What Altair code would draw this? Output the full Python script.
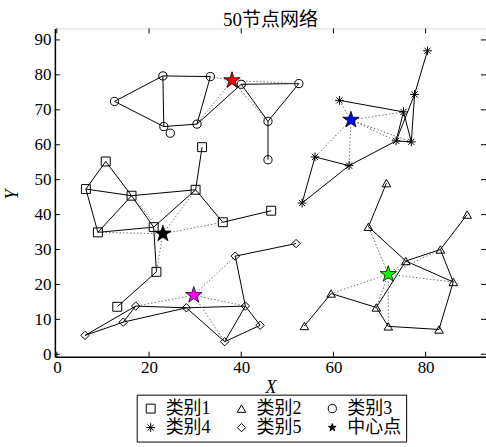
import altair as alt
import pandas as pd

# ---- data ----
c1_x = [31.5, 10.6, 6.3, 16.2, 30.1, 36.0, 8.9, 21.0, 46.5, 21.6, 13.1]
c1_y = [59.3, 55.2, 47.3, 45.4, 47.1, 37.8, 34.9, 36.4, 41.1, 23.6, 13.6]
c2_x = [71.5, 89.0, 67.6, 83.2, 75.7, 86.0, 59.5, 69.3, 53.7, 71.9, 82.9]
c2_y = [49.0, 40.0, 36.5, 30.0, 26.7, 20.7, 17.4, 13.4, 8.1, 8.0, 7.1]
c3_x = [12.5, 23.0, 33.3, 40.0, 23.2, 24.6, 30.4, 45.8, 52.5, 45.8]
c3_y = [72.4, 79.7, 79.5, 77.3, 65.2, 63.3, 65.9, 66.7, 77.5, 55.7]
c4_x = [80.4, 77.6, 61.3, 75.2, 73.6, 76.9, 56.0, 63.4, 53.2]
c4_y = [86.9, 74.4, 72.7, 69.4, 61.1, 60.8, 56.5, 54.0, 43.3]
c5_x = [51.9, 38.7, 17.1, 28.1, 40.9, 14.4, 44.1, 6.1, 36.4]
c5_y = [31.7, 28.1, 13.8, 13.3, 13.8, 9.2, 8.3, 5.4, 3.6]

center_x = [23.0, 71.9, 38.0, 63.8, 29.7]
center_y = [34.5, 22.9, 78.4, 67.1, 16.9]
center_color = ["#000000", "#00ff00", "#ff0000", "#0000ff", "#ff00ff"]

edges1 = [(0, 4), (1, 2), (1, 3), (2, 3), (2, 6), (3, 4), (3, 6), (3, 7), (6, 7),
          (7, 4), (4, 5), (5, 8), (7, 9), (9, 10)]
edges2 = [(0, 2), (2, 4), (4, 5), (1, 3), (3, 4), (3, 5), (4, 7), (6, 7), (6, 8),
          (7, 9), (9, 10), (10, 5)]
edges3 = [(0, 1), (0, 4), (1, 2), (1, 4), (2, 6), (4, 6), (3, 6), (3, 7), (3, 8),
          (8, 7), (7, 9)]
edges4 = [(0, 1), (1, 4), (1, 5), (2, 3), (3, 4), (3, 5), (4, 5), (4, 7), (6, 7),
          (6, 8), (8, 7)]
edges5 = [(0, 1), (1, 4), (2, 3), (3, 4), (2, 5), (2, 7), (5, 7), (5, 3), (3, 8),
          (8, 4), (8, 6), (4, 6)]

dots1 = [6, 3, 4, 5, 9]
dots2 = [2, 3, 5, 6, 7, 9, 4]
dots3 = [2, 6, 8, 7]
dots4 = [2, 3, 4, 5, 6, 7]
dots5 = [1, 2, 4, 8]

categories = ["类别1", "类别2", "类别3", "类别4", "类别5", "中心点"]
x_ticks = [0, 20, 40, 60, 80]
y_ticks = [0, 10, 20, 30, 40, 50, 60, 70, 80, 90]

# ---- tables ----
clusters = [(c1_x, c1_y), (c2_x, c2_y), (c3_x, c3_y), (c4_x, c4_y), (c5_x, c5_y)]
edge_sets = [edges1, edges2, edges3, edges4, edges5]
dot_sets = [dots1, dots2, dots3, dots4, dots5]

node_rows, edge_rows, dot_rows = [], [], []
for k, (xs, ys) in enumerate(clusters):
    for xv, yv in zip(xs, ys):
        node_rows.append({"x": xv, "y": yv, "cat": categories[k]})
    for a, b in edge_sets[k]:
        edge_rows.append({"x": xs[a], "y": ys[a], "x2": xs[b], "y2": ys[b]})
    for i in dot_sets[k]:
        dot_rows.append({"x": center_x[k], "y": center_y[k], "x2": xs[i], "y2": ys[i]})

nodes = pd.DataFrame(node_rows)
edges = pd.DataFrame(edge_rows)
dots = pd.DataFrame(dot_rows)
centers = pd.DataFrame({"x": center_x, "y": center_y, "col": center_color})
xt = pd.DataFrame({"x": x_ticks})
yt = pd.DataFrame({"y": y_ticks})

W, H = 432, 329
SERIF = "Liberation Serif, Noto Sans CJK SC"

STAR = ("M0,-1L0.2245,-0.309L0.951,-0.309L0.363,0.118L0.588,0.809L0,0.382"
        "L-0.588,0.809L-0.363,0.118L-0.951,-0.309L-0.2245,-0.309Z")
ASTER = "M-1,0L1,0M0,-1L0,1M-0.7,-0.7L0.7,0.7M-0.7,0.7L0.7,-0.7"

shape_of = {"类别1": "square", "类别2": "triangle-up", "类别3": "circle",
            "类别4": ASTER, "类别5": "diamond", "中心点": STAR}
fill_of = {"类别1": "transparent", "类别2": "transparent", "类别3": "transparent",
           "类别4": "transparent", "类别5": "transparent", "中心点": "black"}
size_of = {"类别1": 80, "类别2": 100, "类别3": 80, "类别4": 64, "类别5": 90, "中心点": 170}

# legend fills its grid column by column: order the domain so rows read 1-2-3 / 4-5-中心点
legend_order = [categories[i] for i in (0, 3, 1, 4, 2, 5)]

xscale = alt.Scale(domain=[-0.43, 93.1], nice=False, zero=False)
yscale = alt.Scale(domain=[-0.7, 93.3], nice=False, zero=False)
xaxis = alt.Axis(values=x_ticks, ticks=False, grid=False, domainColor="black",
                 domainWidth=1.5, labelFont=SERIF, labelFontSize=17, labelColor="black",
                 labelPadding=3, title="X", titleFont=SERIF, titleFontSize=18,
                 titleFontStyle="italic", titleFontWeight="normal", titleColor="black",
                 titleY=31, titleBaseline="middle")
yaxis = alt.Axis(values=y_ticks, ticks=False, grid=False, domainColor="black",
                 domainWidth=1.5, labelFont=SERIF, labelFontSize=17, labelColor="black",
                 labelPadding=4, title="Y", titleFont=SERIF, titleFontSize=18,
                 titleFontStyle="italic", titleFontWeight="normal", titleColor="black",
                 titleX=-42, titleY=166, titleBaseline="middle", titleAngle=270)

X = alt.X("x:Q", scale=xscale, axis=xaxis)
Y = alt.Y("y:Q", scale=yscale, axis=yaxis)

solid = alt.Chart(edges).mark_rule(color="black", strokeWidth=1).encode(
    x=X, y=Y, x2="x2:Q", y2="y2:Q")
dotted = alt.Chart(dots).mark_rule(color="#707070", strokeWidth=1,
                                   strokeDash=[1.5, 2]).encode(
    x=X, y=Y, x2="x2:Q", y2="y2:Q")

legend = alt.Legend(title=None, orient="none", legendX=82, legendY=367, columns=3,
                    strokeColor="black", fillColor="white", padding=5,
                    labelFont=SERIF, labelFontSize=18, labelColor="black",
                    columnPadding=22, rowPadding=1, labelOffset=6,
                    symbolStrokeColor="black", symbolStrokeWidth=1)

pts = alt.Chart(nodes).mark_point(strokeWidth=1, opacity=1).encode(
    x=X, y=Y,
    shape=alt.Shape("cat:N", scale=alt.Scale(
        domain=legend_order, range=[shape_of[c] for c in legend_order]),
        legend=legend),
    fill=alt.Fill("cat:N", scale=alt.Scale(
        domain=legend_order, range=[fill_of[c] for c in legend_order]),
        legend=legend),
    stroke=alt.Stroke("cat:N", scale=alt.Scale(
        domain=legend_order, range=["black"] * 6), legend=legend),
    size=alt.Size("cat:N", scale=alt.Scale(
        domain=legend_order, range=[size_of[c] for c in legend_order]),
        legend=legend),
)

stars = alt.Chart(centers).mark_point(shape=STAR, size=300, stroke="black",
                                      strokeWidth=0.8, opacity=1, filled=True).encode(
    x=X, y=Y, fill=alt.Fill("col:N", scale=None))

tick_top = alt.Chart(xt).mark_rule(color="black").encode(
    x=X, y=alt.value(0), y2=alt.value(5))
tick_bot = alt.Chart(xt).mark_rule(color="black").encode(
    x=X, y=alt.value(H), y2=alt.value(H - 5))
tick_left = alt.Chart(yt).mark_rule(color="black").encode(
    y=Y, x=alt.value(0), x2=alt.value(5))
tick_right = alt.Chart(yt).mark_rule(color="black").encode(
    y=Y, x=alt.value(W), x2=alt.value(W - 5))

chart = alt.layer(solid, dotted, pts, stars, tick_top, tick_bot, tick_left,
                  tick_right).properties(
    width=W, height=H,
    title=alt.TitleParams("50节点网络", font=SERIF, fontSize=19, fontWeight="normal",
                          color="black", offset=-2, anchor="middle"),
    padding={"left": 55, "top": 28, "right": 0, "bottom": 90},
    autosize=alt.AutoSizeParams(type="none"),
).configure_view(stroke="black", strokeWidth=1.5).configure(background="white")

chart.save("out.html", embed_options={"renderer": "svg", "actions": False})
